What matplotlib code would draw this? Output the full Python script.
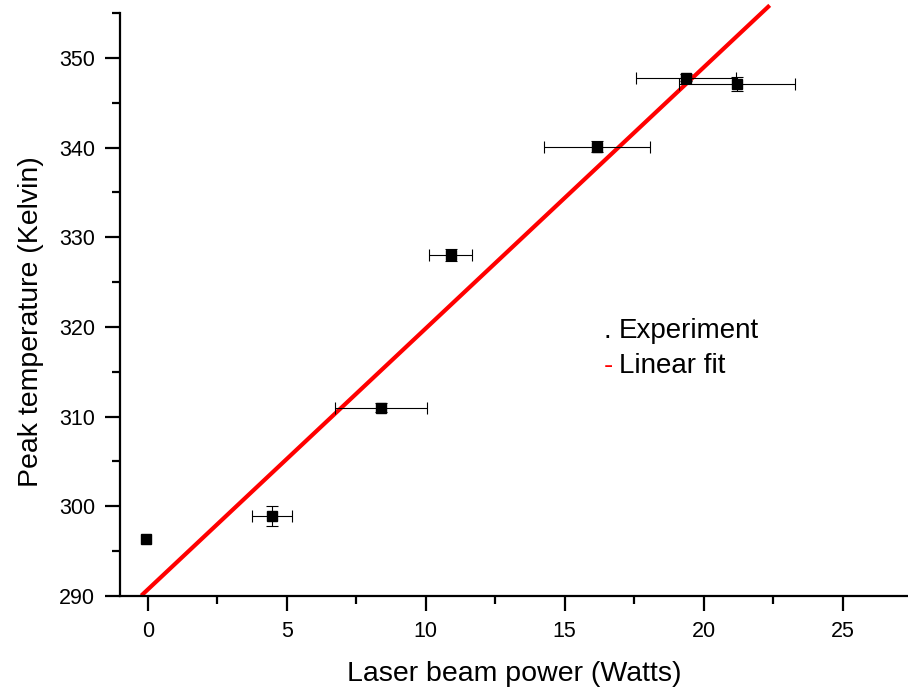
import matplotlib
matplotlib.use("Agg")
import matplotlib.pyplot as plt
from matplotlib.ticker import MultipleLocator

plt.rcParams["font.family"] = ["Liberation Sans", "DejaVu Sans"]

# ----------------------------------------------------------------
# DATA
# ----------------------------------------------------------------
power = [-0.05, 4.45, 8.4, 10.9, 16.15, 19.35, 21.2]        # Watts
temperature = [296.4, 298.9, 311.0, 328.0, 340.1, 347.8, 347.1]  # Kelvin
power_err = [0.0, 0.72, 1.65, 0.77, 1.9, 1.8, 2.1]
temp_err = [0.0, 1.1, 0.5, 0.7, 0.6, 0.4, 0.8]

fit_x = [-0.18, 22.32]
fit_y = [290.2, 355.7]

# ----------------------------------------------------------------
# PLOT
# ----------------------------------------------------------------
fig = plt.figure(figsize=(9.08, 6.87), dpi=100)
ax = fig.add_axes([0.1322, 0.1325, 0.8678, 0.8485])

# first point (0 W) has no error bars
ax.plot(power, temperature, "s", color="black", markersize=6.5, zorder=4)
ax.errorbar(power[1:], temperature[1:], xerr=power_err[1:], yerr=temp_err[1:],
            fmt="none", ecolor="black", elinewidth=0.8, capsize=4,
            capthick=0.8, zorder=3)
ax.plot(fit_x, fit_y, color="#ff0000", lw=3, clip_on=False, zorder=2)

ax.set_xlim(-1, 27.35)
ax.set_ylim(290, 355)
ax.xaxis.set_major_locator(MultipleLocator(5))
ax.xaxis.set_minor_locator(MultipleLocator(2.5))
ax.yaxis.set_major_locator(MultipleLocator(10))
ax.yaxis.set_minor_locator(MultipleLocator(5))

for side in ["top", "right"]:
    ax.spines[side].set_visible(False)
for side in ["left", "bottom"]:
    ax.spines[side].set_linewidth(1.6)

ax.tick_params(which="major", direction="out", length=11, width=1.6,
               labelsize=15.5, pad=7)
ax.tick_params(which="minor", direction="out", length=6, width=1.6)

ax.set_xlabel("Laser beam power (Watts)", fontsize=20.5, labelpad=14)
ax.set_ylabel("Peak temperature (Kelvin)", fontsize=20.5)
ax.yaxis.set_label_coords(-0.097, 0.47)

# Origin-style legend as plain text
ax.text(16.4, 319.6, ".", fontsize=20, va="center")
ax.text(16.95, 319.6, "Experiment", fontsize=20, va="center")
ax.text(16.4, 315.6, "-", fontsize=20, va="center", color="#ff0000")
ax.text(16.95, 315.6, "Linear fit", fontsize=20, va="center")

fig.savefig("out.png", dpi=100)
